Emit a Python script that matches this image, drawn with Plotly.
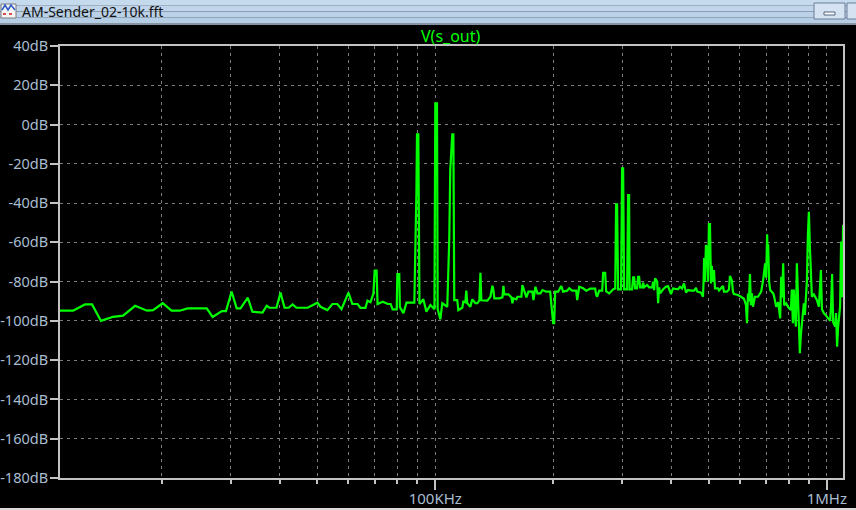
import plotly.graph_objects as go

# ---- data ----
freq_khz = [
    11.0, 11.88, 12.74, 13.28, 14.0, 15.03, 15.94, 17.11, 18.36, 19.02,
    20.12, 21.2, 22.24, 23.3, 26.07, 27.0, 28.5, 29.2, 30.18, 31.1,
    31.8, 33.2, 34.1, 36.2, 37.1, 37.7, 39.3, 40.24, 41.2, 42.2,
    43.2, 44.2, 47.2, 50.0, 50.9, 53.0, 54.6, 56.2, 57.6, 60.0,
    61.4, 63.3, 64.4, 66.3, 67.1, 68.3, 69.5, 70.0, 70.8, 71.2,
    73.4, 75.6, 76.9, 77.8, 79.7, 80.0, 80.9, 81.2, 82.9, 84.4,
    88.4, 89.0, 89.5, 89.8, 90.5, 90.8, 91.1, 93.2, 94.9, 97.2,
    99.5, 100.0, 101.0, 101.2, 101.4, 103.0, 104.2, 107.3, 108.0, 108.6,
    109.2, 110.5, 111.2, 111.8, 113.8, 114.5, 117.2, 117.9, 119.3, 120.0,
    120.7, 122.9, 124.3, 126.6, 128.1, 129.6, 130.4, 131.1, 135.8, 138.3,
    139.9, 140.7, 141.5, 145.8, 148.4, 149.3, 150.1, 153.7, 156.5, 157.4,
    158.3, 161.1, 162.1, 165.9, 166.9, 168.9, 170.9, 172.9, 177.0, 178.1,
    180.2, 182.3, 185.6, 187.8, 191.9, 196.5, 198.8, 200.0, 201.2, 202.4,
    206.0, 209.7, 212.1, 217.2, 219.8, 223.7, 229.0, 230.4, 233.1, 238.7,
    242.9, 248.7, 256.1, 257.6, 259.2, 262.2, 266.9, 268.4, 271.6, 273.2,
    278.1, 284.8, 288.1, 289.6, 291.3, 293.0, 298.2, 300.0, 301.8, 303.6,
    309.0, 310.8, 312.6, 313.5, 318.2, 320.1, 322.0, 323.9, 327.7, 329.6,
    331.6, 333.5, 337.5, 339.5, 341.5, 347.6, 351.7, 358.0, 360.1, 362.2,
    364.3, 368.7, 370.9, 373.0, 375.2, 381.9, 388.4, 393.0, 400.0, 404.7,
    416.8, 421.8, 426.8, 431.8, 436.9, 442.1, 450.0, 458.0, 463.4, 466.2,
    477.0, 482.7, 484.5, 486.0, 488.0, 491.3, 494.5, 497.1, 500.0, 503.0,
    505.9, 508.5, 511.9, 515.0, 518.0, 527.2, 530.4, 543.0, 546.2, 555.9,
    562.5, 565.8, 572.5, 575.8, 579.2, 593.1, 603.5, 614.3, 621.6, 625.3,
    629.0, 632.5, 636.4, 640.0, 644.0, 647.8, 655.4, 667.1, 679.7, 687.7,
    695.9, 700.0, 704.1, 706.0, 708.3, 712.5, 716.7, 729.5, 733.8, 742.5,
    751.3, 760.2, 764.7, 769.0, 773.7, 778.3, 787.5, 796.8, 809.5, 814.0,
    819.1, 823.9, 828.5, 833.7, 838.6, 843.6, 848.5, 853.5, 858.6, 868.7,
    873.8, 879.0, 884.2, 889.5, 894.7, 900.0, 905.3, 910.5, 916.0, 926.9,
    943.5, 954.7, 960.0, 966.0, 971.7, 983.3, 995.9, 1007.7, 1019.6, 1025.5,
    1031.7, 1037.8, 1050.1, 1056.0, 1062.5, 1068.8, 1081.4, 1087.8, 1094.0, 1100.6,
]
level_db = [
    -94.8, -94.8, -91.6, -91.6, -100.0, -97.9, -97.3, -92.3, -94.8, -94.5,
    -91.0, -94.8, -94.8, -93.6, -93.6, -98.0, -95.0, -95.0, -85.1, -93.6,
    -93.6, -88.2, -95.3, -95.8, -92.3, -93.3, -93.3, -85.6, -93.3, -93.3,
    -91.6, -93.3, -93.3, -90.7, -92.8, -94.5, -91.4, -91.4, -94.0, -85.6,
    -91.4, -91.4, -93.4, -93.4, -89.7, -90.5, -86.0, -74.4, -74.4, -91.4,
    -90.2, -91.4, -91.4, -94.1, -94.1, -76.1, -76.1, -93.0, -96.1, -90.7,
    -90.7, -63.0, -34.2, -5.0, -5.0, -48.6, -91.4, -89.0, -95.3, -91.9,
    -94.1, 10.8, 10.8, -41.8, -94.0, -99.2, -91.0, -92.8, -75.8, -57.1,
    -23.2, -5.0, -5.0, -89.4, -89.4, -94.5, -93.3, -90.2, -90.5, -84.6,
    -91.0, -92.8, -89.0, -91.0, -91.0, -89.5, -75.5, -89.5, -89.7, -87.7,
    -82.1, -84.0, -88.5, -88.5, -88.0, -82.2, -86.5, -86.5, -88.0, -91.0,
    -88.5, -89.0, -87.7, -87.7, -81.7, -84.5, -88.0, -85.1, -85.1, -89.4,
    -82.6, -86.0, -86.0, -84.3, -85.1, -85.1, -93.6, -101.2, -101.2, -85.1,
    -85.1, -82.2, -85.1, -84.6, -83.4, -84.6, -84.6, -89.4, -82.6, -83.4,
    -84.6, -83.6, -83.6, -86.8, -87.7, -84.6, -84.6, -75.5, -75.5, -85.0,
    -86.0, -83.9, -83.5, -40.6, -40.6, -83.9, -83.9, -22.3, -22.3, -83.9,
    -83.9, -35.9, -35.9, -83.9, -83.9, -77.8, -77.8, -83.4, -83.4, -77.5,
    -77.5, -82.9, -82.9, -80.5, -82.9, -81.7, -82.9, -82.9, -80.0, -84.3,
    -78.3, -80.0, -91.0, -82.9, -86.0, -83.9, -82.6, -82.3, -86.3, -83.5,
    -83.9, -82.6, -83.5, -80.9, -85.6, -84.3, -84.6, -84.6, -83.2, -85.0,
    -85.6, -87.7, -80.0, -68.0, -80.0, -61.3, -64.0, -80.0, -50.7, -50.7,
    -80.9, -72.0, -80.0, -74.1, -83.4, -83.4, -84.5, -82.2, -85.1, -85.1,
    -84.0, -77.1, -79.5, -85.1, -86.3, -86.8, -87.7, -88.7, -91.9, -101.2,
    -86.0, -90.0, -76.1, -92.0, -86.0, -92.8, -87.7, -87.7, -85.1, -79.2,
    -70.7, -78.0, -55.9, -66.0, -61.0, -80.0, -84.3, -86.0, -87.7, -92.8,
    -90.5, -98.7, -77.5, -88.0, -70.7, -92.0, -91.0, -93.0, -94.5, -84.0,
    -101.2, -84.0, -96.0, -102.9, -70.7, -90.0, -102.0, -116.5, -107.0, -96.0,
    -91.0, -97.0, -89.5, -80.0, -56.2, -44.4, -62.0, -80.0, -87.7, -86.5,
    -89.4, -92.8, -84.0, -74.1, -94.0, -96.1, -97.3, -98.7, -100.0, -92.0,
    -76.1, -100.5, -102.9, -96.0, -113.1, -102.9, -92.8, -59.6, -88.0, -51.2,
]

y_ticks = [40, 20, 0, -20, -40, -60, -80, -100, -120, -140, -160, -180]
y_tick_labels = [f"{v}dB" for v in y_ticks]
x_major = [100, 1000]
x_major_labels = ["100KHz", "1MHz"]
x_minor = [20, 30, 40, 50, 60, 70, 80, 90, 200, 300, 400, 500, 600, 700, 800, 900]
trace_name = "V(s_out)"
window_title = "AM-Sender_02-10k.fft"

# ---- layout geometry (pixels) ----
W, H = 856, 510
L, R, T, B = 60, 843, 46, 478


def px(X):
    return (X - L) / (R - L)


def py(Y):
    return (B - Y) / (B - T)


FONT = "Noto Sans"
LABEL_COLOR = "#a9bdd2"
AXIS_COLOR = "#c3c3c3"
GRID_COLOR = "#7c7c7c"

fig = go.Figure()
fig.add_trace(go.Scatter(
    x=freq_khz, y=level_db, mode="lines",
    line=dict(color="#00ff00", width=2.2),
    name=trace_name, hoverinfo="skip",
))

fig.update_layout(
    width=W, height=H,
    margin=dict(l=L, r=W - R, t=T, b=H - B, pad=0, autoexpand=False),
    paper_bgcolor="black", plot_bgcolor="black",
    showlegend=False,
    font=dict(family=FONT, size=15, color=LABEL_COLOR),
)

fig.update_xaxes(
    type="log", range=[1.04139, 3.04139], automargin=False,
    tickmode="array", tickvals=x_major, ticktext=x_major_labels,
    ticks="outside", ticklen=10, tickwidth=2, tickcolor=AXIS_COLOR,
    ticklabelstandoff=-4,
    showline=True, linecolor=AXIS_COLOR, linewidth=2, mirror=True,
    showgrid=True, gridcolor=GRID_COLOR, gridwidth=1, griddash="3px,4px",
    minor=dict(tickmode="array", tickvals=x_minor, ticks="outside", ticklen=4,
               tickwidth=2, tickcolor=AXIS_COLOR, showgrid=True,
               gridcolor=GRID_COLOR, gridwidth=1, griddash="3px,4px"),
    tickfont=dict(family=FONT, size=15, color=LABEL_COLOR),
    zeroline=False, fixedrange=True,
)
fig.update_yaxes(
    range=[-180, 40], automargin=False,
    tickmode="array", tickvals=y_ticks, ticktext=y_tick_labels,
    ticks="outside", ticklen=8, tickwidth=2, tickcolor=AXIS_COLOR,
    ticklabelstandoff=-1,
    showline=True, linecolor=AXIS_COLOR, linewidth=2, mirror=True,
    showgrid=True, gridcolor=GRID_COLOR, gridwidth=1, griddash="3px,4px",
    tickfont=dict(family=FONT, size=14.5, color=LABEL_COLOR),
    zeroline=False, fixedrange=True,
)

shapes = []
# window title bar (gradient approximated by stripes)
bar_cols = ["#c6daee", "#c0d5eb", "#bad1e8", "#b5cde5"]
for i, c in enumerate(bar_cols):
    y0 = i * 23 / len(bar_cols)
    y1 = (i + 1) * 23 / len(bar_cols)
    shapes.append(dict(type="rect", xref="paper", yref="paper",
                       x0=px(0), x1=px(W), y0=py(y1), y1=py(y0),
                       fillcolor=c, line=dict(width=0), layer="above"))
shapes.append(dict(type="rect", xref="paper", yref="paper",
                   x0=px(0), x1=px(W), y0=py(25), y1=py(23),
                   fillcolor="#8593a2", line=dict(width=0), layer="above"))
# icon
shapes.append(dict(type="rect", xref="paper", yref="paper",
                   x0=px(1), x1=px(16), y0=py(18), y1=py(4),
                   fillcolor="#f4f4f4", line=dict(color="#7a7a7a", width=1), layer="above"))
shapes.append(dict(type="path", xref="paper", yref="paper",
                   path=f"M {px(2)} {py(10)} L {px(5)} {py(5)} L {px(8)} {py(10)} L {px(11)} {py(5)} L {px(15)} {py(10)}",
                   line=dict(color="#2a56c6", width=1.5), layer="above"))
shapes.append(dict(type="line", xref="paper", yref="paper",
                   x0=px(3), x1=px(14), y0=py(14), y1=py(14),
                   line=dict(color="#d01818", width=1.5, dash="dot"), layer="above"))
# minimize button
shapes.append(dict(type="rect", xref="paper", yref="paper",
                   x0=px(814), x1=px(845), y0=py(19), y1=py(3),
                   fillcolor="#d5e2f1", line=dict(color="#6c7e97", width=1), layer="above"))
shapes.append(dict(type="rect", xref="paper", yref="paper",
                   x0=px(824), x1=px(835), y0=py(15), y1=py(12),
                   fillcolor="#ffffff", line=dict(color="#55657a", width=1), layer="above"))
# next button (partially visible)
shapes.append(dict(type="rect", xref="paper", yref="paper",
                   x0=px(847), x1=px(860), y0=py(19), y1=py(3),
                   fillcolor="#d5e2f1", line=dict(color="#6c7e97", width=1), layer="above"))
# bottom light strip
shapes.append(dict(type="rect", xref="paper", yref="paper",
                   x0=px(0), x1=px(W), y0=py(510), y1=py(508),
                   fillcolor="#dcdcdc", line=dict(width=0), layer="below"))
fig.update_layout(shapes=shapes)

fig.add_annotation(text=window_title, xref="paper", yref="paper",
                   x=px(20), y=py(12), xanchor="left", yanchor="middle",
                   showarrow=False, font=dict(family=FONT, size=14, color="#111111"))
fig.add_annotation(text=trace_name, xref="paper", yref="paper",
                   x=px(451), y=py(36), xanchor="center", yanchor="middle",
                   showarrow=False, font=dict(family=FONT, size=16, color="#00ff00"))

fig.write_html(
    "out.html",
    config={"displayModeBar": False, "staticPlot": True},
    post_script="document.body.style.margin='0';document.body.style.padding='0';"
                "document.documentElement.style.overflow='hidden';",
)
